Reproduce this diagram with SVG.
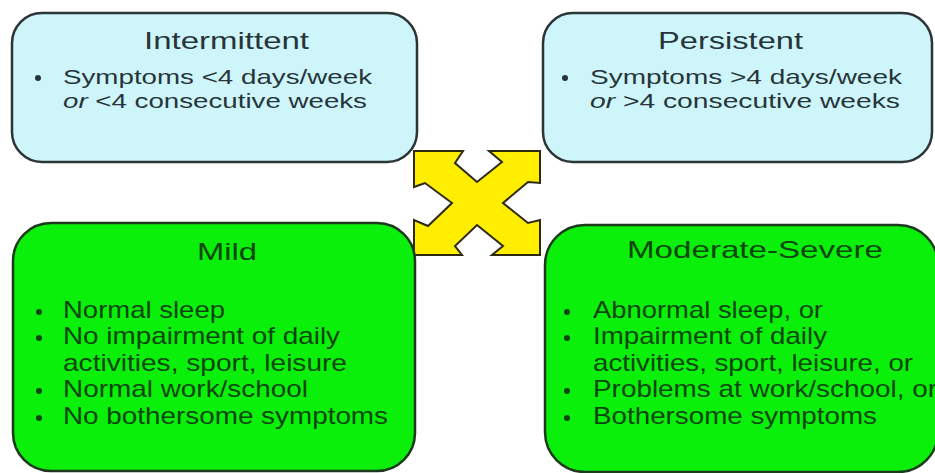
<svg xmlns="http://www.w3.org/2000/svg" width="935" height="473" viewBox="0 0 935 473">
<style>
.blue{fill:#cdf5fa;stroke:#2b3536;stroke-width:2.5}
.green{fill:#0af00a;stroke:#1c3a1c;stroke-width:2.5}
.t{font-family:"Liberation Sans",Arial,sans-serif;font-size:24px}
.s{font-size:21px}
.tb{fill:#27353a}
.tg{fill:#0c460c}
.dotb{fill:#27353a}
.dotg{fill:#0c460c}
</style>
<rect width="935" height="473" fill="#ffffff"/>
<g id="connectors">
<polygon points="414,151 463,151 455,163 477,182 502,162 489,151 540,151 540,183 528,182 503,203 528,223 540,220 540,255 492,255 503,246 477,225 455,246 462,255 414,255 414,220 428,226 452,203 425,183 414,187" fill="#ffee00" stroke="#2d2a10" stroke-width="2" stroke-linejoin="miter"/>
</g>
<g id="intermittent">
<rect class="blue" x="12" y="13" width="405" height="149" rx="30" ry="30"/>
<text class="t tb" x="144" y="49" textLength="165" lengthAdjust="spacingAndGlyphs">Intermittent</text>
<circle class="dotb" cx="38" cy="78" r="3"/>
<text class="t s tb" x="63" y="84" textLength="309" lengthAdjust="spacingAndGlyphs">Symptoms &lt;4 days/week</text>
<text class="t s tb" x="63" y="108" textLength="304" lengthAdjust="spacingAndGlyphs"><tspan font-style="italic">or</tspan> &lt;4 consecutive weeks</text>
</g>
<g id="persistent">
<rect class="blue" x="543" y="13" width="389" height="149" rx="30" ry="30"/>
<text class="t tb" x="658" y="49" textLength="145" lengthAdjust="spacingAndGlyphs">Persistent</text>
<circle class="dotb" cx="565" cy="78" r="3"/>
<text class="t s tb" x="590" y="84" textLength="312" lengthAdjust="spacingAndGlyphs">Symptoms &gt;4 days/week</text>
<text class="t s tb" x="590" y="108" textLength="310" lengthAdjust="spacingAndGlyphs"><tspan font-style="italic">or</tspan> &gt;4 consecutive weeks</text>
</g>
<g id="mild">
<rect class="green" x="13" y="223" width="402" height="248" rx="38" ry="38"/>
<text class="t tg" x="197" y="260" textLength="60" lengthAdjust="spacingAndGlyphs">Mild</text>
<circle class="dotg" cx="39" cy="312" r="3"/>
<text class="t tg" x="63" y="318" textLength="162" lengthAdjust="spacingAndGlyphs">Normal sleep</text>
<circle class="dotg" cx="39" cy="338" r="3"/>
<text class="t tg" x="63" y="344" textLength="277" lengthAdjust="spacingAndGlyphs">No impairment of daily</text>
<text class="t tg" x="63" y="371" textLength="284" lengthAdjust="spacingAndGlyphs">activities, sport, leisure</text>
<circle class="dotg" cx="39" cy="391" r="3"/>
<text class="t tg" x="63" y="397" textLength="245" lengthAdjust="spacingAndGlyphs">Normal work/school</text>
<circle class="dotg" cx="39" cy="418" r="3"/>
<text class="t tg" x="63" y="424" textLength="325" lengthAdjust="spacingAndGlyphs">No bothersome symptoms</text>
</g>
<g id="moderate-severe">
<rect class="green" x="545" y="225" width="393" height="247" rx="40" ry="40"/>
<text class="t tg" x="627" y="258" textLength="256" lengthAdjust="spacingAndGlyphs">Moderate-Severe</text>
<circle class="dotg" cx="567" cy="312" r="3"/>
<text class="t tg" x="593" y="318" textLength="230" lengthAdjust="spacingAndGlyphs">Abnormal sleep, or</text>
<circle class="dotg" cx="567" cy="338" r="3"/>
<text class="t tg" x="593" y="344" textLength="234" lengthAdjust="spacingAndGlyphs">Impairment of daily</text>
<text class="t tg" x="593" y="371" textLength="320" lengthAdjust="spacingAndGlyphs">activities, sport, leisure, or</text>
<circle class="dotg" cx="567" cy="391" r="3"/>
<text class="t tg" x="593" y="397" textLength="344" lengthAdjust="spacingAndGlyphs">Problems at work/school, or</text>
<circle class="dotg" cx="567" cy="418" r="3"/>
<text class="t tg" x="593" y="424" textLength="284" lengthAdjust="spacingAndGlyphs">Bothersome symptoms</text>
</g>
</svg>
